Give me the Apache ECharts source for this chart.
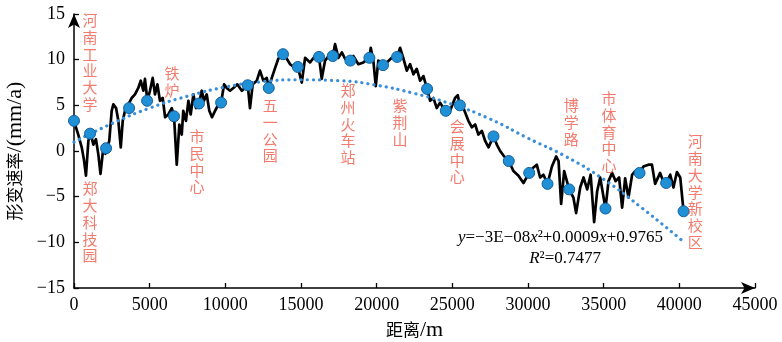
<!DOCTYPE html>
<html>
<head>
<meta charset="utf-8">
<script src="https://cdn.jsdelivr.net/npm/echarts@6/dist/echarts.min.js"></script>
<style>
html,body{margin:0;padding:0;background:#fff;}
#chart{width:782px;height:342px;}
</style>
</head>
<body>
<div id="chart"></div>
<script>
// Deformation-rate profile (black line)
const distM = [0,280,510,660,790,950,1100,1280,1450,1610,1750,1940,2080,2330,2490,2600,2780,2930,3090,3220,3370,3590,3810,4030,4250,4410,4580,4690,4850,5020,5200,5350,5510,5680,5860,6020,6230,6460,6610,6790,6960,7120,7220,7400,7560,7710,7890,8060,8260,8440,8590,8770,8940,9120,9320,9540,9720,9920,10090,10310,10530,10790,11090,11300,11480,11630,11810,12080,12290,12510,12740,12870,13070,13290,13500,13810,14060,14280,14610,14790,15050,15270,15600,15930,16190,16370,16590,16920,17100,17250,17470,17700,17910,18260,18460,18790,19120,19520,19610,19780,19940,20110,20420,20670,21000,21350,21550,21770,21990,22210,22430,22650,22870,23090,23330,23530,23750,23970,24190,24410,24570,24850,25180,25360,25500,25730,26060,26290,26510,26720,26950,27170,27390,27720,27940,28160,28380,28730,29040,29370,29700,30080,30360,30580,30800,31020,31290,31580,31860,32020,32190,32390,32570,32720,33000,33180,33450,33670,33910,34140,34370,34570,34770,35120,35320,35560,35790,36020,36220,36420,36640,36880,37080,37370,37630,37960,38190,38400,38730,38930,39130,39400,39610,39840,40060,40280];
const rateMm = [3.3,1.8,0.4,-1.0,-2.7,1.1,1.9,0.7,1.3,-0.4,-2.5,0.4,-0.3,1.1,4.4,5.1,4.7,3.3,0.4,3.3,4.4,5.1,5.8,6.2,6.9,7.7,6.6,7.9,5.5,6.6,8.0,6.2,7.3,5.5,5.8,3.7,4.0,4.7,3.8,-1.5,2.9,1.8,4.4,3.3,5.5,4.0,6.2,4.7,5.2,6.6,5.5,6.2,4.4,3.7,4.4,5.1,5.3,7.3,6.9,6.6,6.9,7.3,6.6,6.9,7.2,4.7,7.3,7.7,8.8,7.7,8.0,6.9,8.0,9.1,10.1,10.6,10.1,9.5,9.1,9.2,7.5,10.2,9.7,10.4,10.3,7.9,9.9,10.6,10.4,11.7,10.2,10.8,10.1,9.9,10.4,9.5,9.7,10.2,11.3,9.9,7.1,9.9,9.4,9.7,10.2,10.3,11.3,10.1,8.8,9.5,8.4,9.0,7.7,8.2,6.8,5.5,5.8,4.7,5.3,4.7,4.4,4.4,5.8,6.1,5.0,4.7,3.3,2.6,2.9,1.8,2.2,1.1,0.4,1.6,0.7,0.0,-0.5,-1.1,-2.2,-2.7,-3.5,-2.4,-1.8,-1.5,-2.9,-2.6,-3.6,-1.7,-0.6,-1.1,-5.8,-2.2,-3.3,-4.2,-5.1,-6.8,-4.0,-2.9,-4.2,-2.6,-7.8,-4.4,-2.9,-6.3,-3.3,-2.4,-3.3,-2.9,-6.2,-3.0,-5.1,-2.6,-2.2,-2.4,-1.7,-1.5,-1.5,-3.6,-2.4,-3.3,-3.5,-2.6,-4.0,-2.3,-2.9,-6.6];

// Blue measurement points
const pointDist = [0,1060,2120,3640,4830,6610,8260,9720,11480,12870,13810,14790,16190,17100,18260,19520,20420,21350,23330,24570,25500,27720,28730,30080,31290,32720,35120,37370,39130,40280];
const pointRate = [3.3,1.9,0.3,4.7,5.5,3.8,5.2,5.3,7.2,6.9,10.6,9.2,10.3,10.4,9.9,10.2,9.4,10.3,6.8,4.4,5.0,1.6,-1.1,-2.4,-3.6,-4.2,-6.3,-2.4,-3.5,-6.6];

// Dotted trend curve
const trendDist = [0,2500,5000,7500,10000,12500,15000,17500,20000,22500,25000,27500,30000,32500,35000,37500,40250];
const trendRate = [0.98,3.0,4.7,6.0,7.0,7.6,7.8,7.7,7.2,6.3,5.1,3.5,1.4,-0.6,-3.1,-6.2,-9.9];

// Station annotations (anchor = top of vertical label)
const stationNames = ['河南工业大学','郑大科技园','铁炉','市民中心','五一公园','郑州火车站','紫荆山','会展中心','博学路','市体育中心','河南大学新校区'];
const stationDist = [1060,1060,6480,8130,12960,18110,21550,25320,32850,35360,41050];
const stationTop  = [15.24,-3.18,9.43,2.52,5.92,7.57,5.92,3.62,5.92,6.69,1.97];

const xTicks = [0,5000,10000,15000,20000,25000,30000,35000,40000,45000];
const yTicks = [-15,-10,-5,0,5,10,15];

const serif = '"Liberation Serif","Noto Sans CJK SC",serif';
const cjk = '"Noto Sans CJK SC",sans-serif';
const chart = echarts.init(document.getElementById('chart'), null, {renderer:'canvas'});

const lineData = distM.map((d,i)=>[d, rateMm[i]]);
const pointData = pointDist.map((d,i)=>[d, pointRate[i]]);
const trendData = trendDist.map((d,i)=>[d, trendRate[i]]);
const stationData = stationNames.map((n,i)=>({value:[stationDist[i], stationTop[i]], name:n}));

const nameRich = {
  c:{fontFamily:cjk, fontSize:17, color:'#000'},
  l:{fontFamily:serif, fontSize:22, color:'#000'}
};

chart.setOption({
  animation:false,
  backgroundColor:'#fff',
  grid:{left:74, right:27, top:14, bottom:54, containLabel:false, outerBoundsMode:'none'},
  xAxis:{
    type:'value', min:xTicks[0], max:xTicks[xTicks.length-1], interval:5000,
    name:'{c|距离}{l|/m}', nameLocation:'middle', nameGap:30,
    nameTextStyle:{fontFamily:serif, fontSize:18, color:'#000', rich:nameRich},
    axisLine:{show:true, onZero:false, symbol:['none','arrow'], symbolSize:[9,14], lineStyle:{color:'#000', width:1.5}},
    axisTick:{show:true, inside:true, length:5, lineStyle:{color:'#000', width:1.3}},
    axisLabel:{fontFamily:serif, fontSize:18, color:'#000', margin:8, formatter:v=>String(v)},
    splitLine:{show:false}
  },
  yAxis:{
    type:'value', min:yTicks[0], max:yTicks[yTicks.length-1], interval:5,
    name:'{c|形变速率}{l|/(mm/a)}', nameLocation:'middle', nameGap:38,
    nameTextStyle:{fontFamily:serif, fontSize:18, color:'#000', rich:nameRich},
    axisLine:{show:true, onZero:false, symbol:['none','arrow'], symbolSize:[9,14], lineStyle:{color:'#000', width:1.5}},
    axisTick:{show:true, inside:true, length:5, lineStyle:{color:'#000', width:1.3}},
    axisLabel:{fontFamily:serif, fontSize:18, color:'#000', margin:9,
      formatter:v=> v<0 ? '\u2212'+Math.abs(v) : String(v)},
    splitLine:{show:false}
  },
  graphic:[
    {type:'text', right:119, top:229, z:100,
      style:{text:'{i|y}=\u22123E\u221208{i|x}\u00b2+0.0009{i|x}+0.9765', font:'17px '+serif, fill:'#000',
        rich:{i:{fontStyle:'italic', fontFamily:serif, fontSize:17, fill:'#000'}}}},
    {type:'text', right:181, top:250, z:100,
      style:{text:'{i|R}\u00b2=0.7477', font:'17px '+serif, fill:'#000',
        rich:{i:{fontStyle:'italic', fontFamily:serif, fontSize:17, fill:'#000'}}}}
  ],
  series:[
    {type:'line', data:lineData, showSymbol:false, symbol:'none', z:2,
      lineStyle:{color:'#000', width:2.7, join:'round'}},
    {type:'line', data:trendData, smooth:true, showSymbol:false, symbol:'none', z:3,
      lineStyle:{color:'#3a8fd8', width:3.2, type:[0.1,6], cap:'round'}},
    {type:'scatter', data:pointData, symbol:'circle', symbolSize:11, z:4,
      itemStyle:{color:'#1f8fd6', borderColor:'#14609e', borderWidth:1, opacity:1}},
    {type:'scatter', data:stationData, symbolSize:0, clip:false, z:5,
      label:{show:true, position:'inside', align:'center', verticalAlign:'top',
        formatter:p=>p.name.split('').join('\n'),
        fontFamily:cjk, fontSize:15, lineHeight:16.8, color:'#ef5a48'}}
  ]
});
</script>
</body>
</html>
